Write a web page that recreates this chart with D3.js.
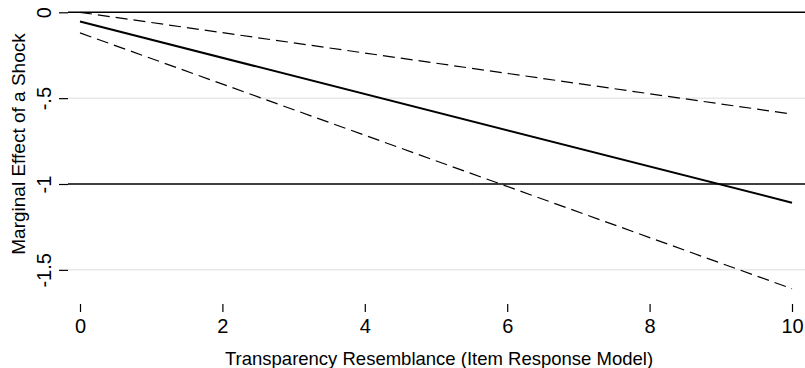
<!DOCTYPE html>
<html><head><meta charset="utf-8">
<script src="https://cdn.jsdelivr.net/npm/d3@7"></script>
<style>body{margin:0;background:#fff}svg{display:block}text{font-family:"Liberation Sans",Arial,sans-serif;fill:#000}</style>
</head><body>
<script>
const xEnds = [0, 10];
const estimate = [-0.054, -1.109];
const upperCI = [0.0, -0.593];
const lowerCI = [-0.12, -1.61];
const xTicks = [0, 2, 4, 6, 8, 10];
const yTicks = [0, -0.5, -1, -1.5];
const yTickLabels = ["0", "-.5", "-1", "-1.5"];
const refLines = [0, -1];

const W = 805, H = 368;
const svg = d3.select("body").append("svg").attr("width", W).attr("height", H);
const x = d3.scaleLinear().domain([0, 10]).range([80, 792]);
const y = d3.scaleLinear().domain([0, -1]).range([12.3, 184]);
const plotL = 68, plotR = 805;

// gridlines
svg.append("g").selectAll("line").data(yTicks.filter(v => !refLines.includes(v))).join("line")
  .attr("x1", plotL).attr("x2", plotR).attr("y1", d => y(d)).attr("y2", d => y(d))
  .attr("stroke", "#e8e8e8").attr("stroke-width", 1.5);

// y axis
const yAxis = d3.axisLeft(y).tickValues(yTicks).tickSize(9).tickFormat((d, i) => yTickLabels[i]);
const gy = svg.append("g").attr("transform", `translate(${plotL},0)`).call(yAxis);
gy.select(".domain").remove();
gy.selectAll(".tick line").attr("stroke", "#000").attr("stroke-width", 1.2);
gy.selectAll(".tick text").attr("x", 0).attr("dy", 0).attr("text-anchor", "middle")
  .attr("transform", "translate(-17,0) rotate(-90)")
  .attr("y", 0).style("font-size", "20px").style("font-family", '"Liberation Sans",Arial,sans-serif');

// x axis
const xAxis = d3.axisBottom(x).tickValues(xTicks).tickSize(8).tickFormat(d3.format("d"));
const gx = svg.append("g").attr("transform", `translate(0,${304})`).call(xAxis);
gx.select(".domain").remove();
gx.selectAll(".tick line").attr("stroke", "#000").attr("stroke-width", 1.2);
gx.selectAll(".tick text").attr("y", 14.5).attr("dy", "0.71em").style("font-size", "20px")
  .style("font-family", '"Liberation Sans",Arial,sans-serif');

// reference lines
svg.append("g").selectAll("line").data(refLines).join("line")
  .attr("x1", plotL).attr("x2", plotR).attr("y1", d => y(d)).attr("y2", d => y(d))
  .attr("stroke", "#000").attr("stroke-width", 1.6);

const line = d3.line().x(d => x(d[0])).y(d => y(d[1]));
function draw(vals, dash, w) {
  svg.append("path").datum(xEnds.map((v, i) => [v, vals[i]])).attr("d", line)
    .attr("fill", "none").attr("stroke", "#000").attr("stroke-width", w)
    .attr("stroke-dasharray", dash);
}
draw(upperCI, "12,6", 1.2);
draw(lowerCI, "12,6", 1.2);
draw(estimate, null, 2);

// titles
svg.append("text").attr("transform", `translate(25,144) rotate(-90)`)
  .attr("text-anchor", "middle").style("font-size", "19px").text("Marginal Effect of a Shock");
svg.append("text").attr("x", 439).attr("y", 365).attr("text-anchor", "middle")
  .style("font-size", "18.5px").text("Transparency Resemblance (Item Response Model)");
</script>
</body></html>
